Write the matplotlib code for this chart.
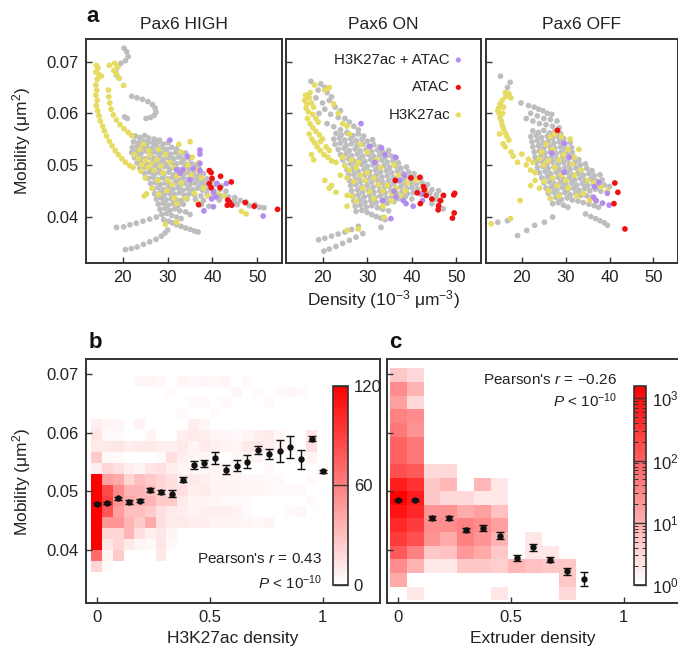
import numpy as np
import matplotlib
matplotlib.use("Agg")
import matplotlib.pyplot as plt
from matplotlib.colors import LinearSegmentedColormap, LogNorm, Normalize
from matplotlib.ticker import LogLocator, NullFormatter

plt.rcParams['font.family'] = ['Liberation Sans', 'DejaVu Sans']
plt.rcParams['mathtext.fontset'] = 'custom'
plt.rcParams['mathtext.rm'] = 'Liberation Sans'
plt.rcParams['mathtext.it'] = 'Liberation Sans:italic'
plt.rcParams['mathtext.bf'] = 'Liberation Sans:bold'

# ---------------- panel a data (density, mobility) ----------------
panel_titles = ["Pax6 HIGH", "Pax6 ON", "Pax6 OFF"]

gray_high = [
    20.3,.0726, 20.9,.0719, 21.2,.0710, 20.6,.0702, 19.6,.0697, 18.9,.0690, 18.4,.0683, 18.6,.0674, 19.2,.0668,
    22.0,.0633, 23.2,.0630, 24.4,.0627, 25.6,.0623, 26.6,.0617, 27.2,.0610, 27.4,.0602, 27.0,.0596, 26.2,.0592,
    25.2,.0590, 20.4,.0593, 21.0,.0590,
    22.8,.0556, 23.8,.0553, 24.9,.0557, 25.8,.0552, 27.0,.0550, 28.2,.0548,
    22.4,.0545, 23.5,.0543, 24.6,.0546, 25.7,.0544, 26.8,.0542, 27.9,.0545, 29.0,.0540, 30.1,.0543,
    22.1,.0534, 23.2,.0536, 24.3,.0533, 25.4,.0535, 26.5,.0532, 27.6,.0536, 28.7,.0533, 29.8,.0530, 30.9,.0534, 32.0,.0531,
    22.0,.0524, 23.0,.0526, 24.1,.0523, 25.2,.0527, 26.3,.0522, 27.4,.0525, 28.5,.0522, 29.6,.0526, 30.7,.0521, 31.8,.0524, 32.9,.0520, 34.0,.0523,
    22.6,.0514, 23.7,.0517, 24.8,.0512, 25.9,.0515, 27.0,.0513, 28.1,.0516, 29.2,.0511, 30.3,.0514, 31.4,.0512, 32.5,.0515, 33.6,.0511, 34.8,.0513,
    23.2,.0504, 24.3,.0507, 25.4,.0502, 26.5,.0505, 27.6,.0503, 28.7,.0506, 29.8,.0501, 30.9,.0504, 32.0,.0502, 33.1,.0505, 34.2,.0501, 35.3,.0503, 36.4,.0500,
    23.8,.0494, 24.9,.0496, 26.0,.0492, 27.1,.0495, 28.2,.0493, 29.3,.0497, 30.4,.0492, 31.5,.0494, 32.6,.0491, 33.7,.0495, 34.8,.0492, 35.9,.0490, 37.0,.0493,
    24.8,.0484, 25.9,.0486, 27.0,.0482, 28.1,.0485, 29.2,.0483, 30.3,.0486, 31.4,.0481, 32.5,.0484, 33.6,.0482, 34.7,.0485, 35.8,.0481, 36.9,.0479, 38.0,.0483,
    25.6,.0474, 26.7,.0476, 27.8,.0472, 28.9,.0475, 30.0,.0473, 31.1,.0476, 32.2,.0471, 33.3,.0474, 34.4,.0472, 35.5,.0475, 36.6,.0471, 37.7,.0469, 38.8,.0473, 39.9,.0470,
    26.2,.0464, 27.3,.0466, 28.4,.0462, 29.5,.0465, 30.6,.0463, 31.7,.0466, 32.8,.0461, 33.9,.0464, 35.0,.0462, 36.1,.0465, 37.2,.0461, 38.3,.0463, 39.4,.0460, 40.8,.0462, 42.0,.0459,
    26.8,.0454, 27.9,.0456, 29.0,.0452, 30.1,.0455, 31.2,.0453, 32.3,.0456, 33.4,.0451, 34.5,.0454, 35.6,.0452, 36.7,.0455, 37.8,.0451, 38.9,.0453, 40.2,.0450, 41.6,.0452, 43.0,.0449,
    27.1,.0444, 28.2,.0446, 29.3,.0442, 30.4,.0445, 31.5,.0443, 32.6,.0446, 33.7,.0441, 34.8,.0444, 36.0,.0442, 37.4,.0440, 38.8,.0443, 40.4,.0441, 42.0,.0440, 43.6,.0438, 45.0,.0437,
    27.5,.0434, 28.6,.0436, 29.7,.0432, 30.8,.0435, 31.9,.0433, 33.0,.0431, 34.3,.0434, 36.2,.0433, 38.0,.0431, 41.5,.0432, 44.8,.0430, 46.2,.0431, 47.5,.0428,
    27.9,.0424, 29.0,.0426, 30.1,.0422, 31.2,.0425, 32.3,.0421, 33.5,.0424, 37.5,.0423, 39.2,.0420, 45.5,.0423, 48.2,.0421, 49.5,.0423, 50.5,.0418, 51.5,.0417,
    28.3,.0414, 29.4,.0416, 30.5,.0412, 31.6,.0415, 32.7,.0411, 34.0,.0409, 35.0,.0404,
    28.7,.0404, 29.8,.0406, 30.9,.0402, 32.0,.0399, 33.0,.0396,
    29.1,.0394, 30.2,.0391, 31.0,.0388, 32.0,.0384, 33.0,.0381, 34.0,.0378, 35.0,.0375, 36.0,.0372, 36.8,.0370,
    18.6,.0379, 20.2,.0380, 21.6,.0384, 23.0,.0387, 24.5,.0391, 26.0,.0395, 27.5,.0399,
    20.6,.0336, 21.9,.0338, 23.2,.0341, 24.6,.0346, 26.0,.0351, 27.4,.0356, 28.6,.0362, 29.4,.0368, 30.0,.0374,
]
yellow_high = [
    14.1,.0693, 14.5,.0688, 14.0,.0680, 14.6,.0676, 15.2,.0672, 14.3,.0666, 14.0,.0655, 14.2,.0645, 14.0,.0635,
    14.3,.0625, 14.1,.0615, 14.4,.0605, 14.7,.0595, 15.0,.0585, 15.5,.0575, 15.9,.0566, 16.4,.0556, 17.0,.0546,
    17.6,.0537, 18.3,.0528, 19.0,.0520, 19.8,.0512, 20.6,.0505, 21.5,.0499, 22.3,.0495,
    17.0,.0693, 18.2,.0697, 18.8,.0690, 18.0,.0683, 18.6,.0676, 19.2,.0668, 20.2,.0654,
    16.8,.0645, 16.9,.0632, 17.1,.0620, 17.4,.0608, 17.9,.0597, 18.6,.0587, 19.4,.0578, 20.3,.0570, 21.2,.0563, 22.0,.0557,
    22.5,.0520, 23.5,.0512, 24.2,.0500, 25.0,.0508, 25.5,.0495, 26.3,.0503, 27.0,.0490, 26.0,.0518, 27.6,.0510,
    28.5,.0498, 23.8,.0530, 24.6,.0540, 25.8,.0528, 28.0,.0530, 29.5,.0520, 30.5,.0505, 31.5,.0495, 29.0,.0485,
    32.0,.0478, 33.5,.0488, 34.5,.0500, 35.2,.0480, 36.5,.0490, 37.5,.0475, 33.0,.0465, 31.0,.0462, 29.8,.0450,
    28.0,.0443, 26.5,.0455, 25.0,.0475, 24.0,.0488, 32.5,.0540, 33.0,.0525, 35.5,.0515, 30.0,.0470, 38.0,.0455,
    39.0,.0440, 36.0,.0445, 34.0,.0435, 41.0,.0445, 42.5,.0440, 46.5,.0410, 47.5,.0405, 29.5,.0385, 32.0,.0425,
    36.8,.0426, 31.5,.0436, 27.8,.0470, 24.8,.0440, 25.3,.0444, 37.0,.0504, 35.0,.0545, 32.0,.0389,
]
purple_high = [
    30.5,.0548, 34.4,.0517, 37.2,.0529, 37.2,.0521, 37.2,.0503, 35.7,.0493, 33.4,.0490, 32.0,.0491, 35.0,.0471,
    32.8,.0484, 41.0,.0464, 43.1,.0464, 40.2,.0447, 40.8,.0438, 39.8,.0434, 40.2,.0419, 38.1,.0411, 51.3,.0401,
    37.2,.0489,
]
red_high = [
    39.3,.0489, 39.7,.0485, 39.9,.0474, 39.3,.0464, 39.7,.0456, 41.8,.0478, 41.7,.0456, 44.2,.0467, 43.4,.0432,
    43.8,.0428, 43.3,.0422, 44.3,.0422, 36.9,.0423, 47.3,.0427, 49.3,.0420, 54.5,.0414,
]

gray_on = [
    17.4,.0662, 19.6,.0657, 20.5,.0650, 19.0,.0645, 21.0,.0640, 22.0,.0632, 21.5,.0625, 18.5,.0630, 20.0,.0620,
    22.8,.0612, 24.0,.0605, 20.5,.0608, 19.2,.0600, 21.8,.0598, 23.5,.0592, 25.0,.0590, 26.0,.0583, 27.0,.0575,
    21.0,.0580, 22.5,.0574, 24.0,.0568, 25.5,.0563, 28.0,.0568,
    23.0,.0561, 24.2,.0558, 25.5,.0562, 26.8,.0557, 28.0,.0560, 29.2,.0556,
    22.5,.0550, 23.8,.0552, 25.0,.0548, 26.3,.0551, 27.5,.0547, 28.8,.0550, 30.0,.0546, 31.2,.0549,
    22.8,.0540, 24.0,.0542, 25.3,.0538, 26.5,.0541, 27.8,.0537, 29.0,.0540, 30.3,.0536, 31.5,.0539, 32.8,.0535,
    23.5,.0530, 24.8,.0532, 26.0,.0528, 27.3,.0531, 28.5,.0527, 29.8,.0530, 31.0,.0526, 32.3,.0529, 33.5,.0525, 34.8,.0528,
    24.0,.0520, 25.3,.0522, 26.5,.0518, 27.8,.0521, 29.0,.0517, 30.3,.0520, 31.5,.0516, 32.8,.0519, 34.0,.0515, 35.3,.0518, 36.5,.0514,
    24.5,.0510, 25.8,.0512, 27.0,.0508, 28.3,.0511, 29.5,.0507, 30.8,.0510, 32.0,.0506, 33.3,.0509, 34.5,.0505, 35.8,.0508, 37.0,.0504,
    25.0,.0500, 26.3,.0502, 27.5,.0498, 28.8,.0501, 30.0,.0497, 31.3,.0500, 32.5,.0496, 33.8,.0499, 35.0,.0495, 36.3,.0498, 37.5,.0494, 38.8,.0496,
    25.5,.0490, 26.8,.0492, 28.0,.0488, 29.3,.0491, 30.5,.0487, 31.8,.0490, 33.0,.0486, 34.3,.0489, 35.5,.0485, 36.8,.0488, 38.0,.0484, 39.3,.0486, 40.5,.0483,
    25.8,.0480, 27.0,.0482, 28.3,.0478, 29.5,.0481, 30.8,.0477, 32.0,.0480, 33.3,.0476, 34.5,.0479, 35.8,.0475, 37.0,.0478, 38.3,.0474, 39.5,.0476, 40.8,.0473, 42.0,.0475,
    26.0,.0470, 27.3,.0472, 28.5,.0468, 29.8,.0471, 31.0,.0467, 32.3,.0470, 33.5,.0466, 34.8,.0469, 36.0,.0465, 37.3,.0468, 38.5,.0464, 39.8,.0466, 41.0,.0463, 42.3,.0465, 43.5,.0462,
    26.3,.0460, 27.5,.0462, 28.8,.0458, 30.0,.0461, 31.3,.0457, 32.5,.0460, 33.8,.0456, 35.0,.0459, 36.3,.0455, 37.5,.0458, 38.8,.0454, 40.0,.0456, 41.3,.0453, 43.0,.0455, 44.5,.0452, 46.0,.0450,
    26.5,.0450, 27.8,.0452, 29.0,.0448, 30.3,.0451, 31.5,.0447, 32.8,.0450, 34.0,.0446, 35.3,.0449, 36.5,.0445, 37.8,.0448, 39.0,.0444, 40.3,.0446, 42.0,.0443, 44.0,.0445, 45.5,.0442, 47.0,.0440,
    26.8,.0440, 28.0,.0442, 29.3,.0438, 30.5,.0441, 31.8,.0437, 33.0,.0440, 34.3,.0436, 35.5,.0439, 37.0,.0435, 38.5,.0438, 40.0,.0434, 45.5,.0433, 46.5,.0430,
    27.0,.0430, 28.3,.0432, 29.5,.0428, 30.8,.0431, 32.0,.0427, 33.3,.0430, 34.5,.0426, 36.0,.0429, 44.5,.0425, 46.0,.0420, 47.0,.0415,
    27.3,.0420, 28.5,.0422, 29.8,.0418, 31.0,.0421, 32.3,.0417, 33.5,.0414, 34.8,.0411,
    27.5,.0410, 28.8,.0412, 30.0,.0408, 31.0,.0404, 32.0,.0400, 33.0,.0397, 34.0,.0394, 33.1,.0379,
    19.1,.0355, 20.5,.0358, 22.0,.0362, 23.5,.0366, 25.0,.0370, 26.5,.0375, 28.0,.0381,
    20.3,.0333, 21.5,.0337, 23.0,.0342, 24.5,.0348, 26.0,.0354, 27.5,.0360, 29.0,.0367,
]
yellow_on = [
    16.2,.0635, 16.0,.0625, 16.5,.0618, 16.3,.0610, 16.8,.0603, 17.2,.0640, 17.0,.0630, 17.5,.0620, 18.0,.0612,
    17.8,.0598, 18.5,.0590, 19.0,.0583, 16.6,.0590, 17.2,.0580, 17.8,.0572, 18.5,.0565, 19.3,.0558, 20.0,.0550,
    17.0,.0560, 17.6,.0550, 18.2,.0543, 18.8,.0535, 19.5,.0528, 20.3,.0520, 21.2,.0515, 22.0,.0508, 17.5,.0520,
    18.0,.0510, 19.5,.0545, 20.8,.0535, 21.5,.0528, 20.5,.0645, 21.5,.0650, 18.2,.0655, 22.5,.0618, 23.5,.0600,
    24.5,.0580, 25.5,.0575, 26.0,.0560,
    23.0,.0505, 24.5,.0515, 25.0,.0498, 26.0,.0490, 27.5,.0495, 28.5,.0480, 29.5,.0470, 30.0,.0485, 31.5,.0475,
    32.5,.0462, 33.5,.0450, 34.5,.0460, 35.5,.0445, 36.5,.0455, 37.5,.0440, 38.5,.0450, 30.5,.0448, 29.0,.0455,
    27.0,.0468, 25.5,.0475, 24.0,.0480, 22.0,.0460, 21.5,.0455, 26.5,.0440, 27.5,.0430, 25.5,.0420, 31.5,.0435,
    33.5,.0420, 35.5,.0430, 32.0,.0510, 30.0,.0525, 28.5,.0540, 33.0,.0495, 36.0,.0500, 37.0,.0480, 39.0,.0465,
    41.0,.0470, 43.0,.0450, 33.8,.0399, 28.0,.0376, 25.5,.0373, 23.0,.0447, 25.5,.0441, 20.5,.0470, 26.5,.0510,
    28.0,.0505,
]
purple_on = [
    28.6,.0580, 30.6,.0536, 33.2,.0533, 34.0,.0520, 36.3,.0515, 31.7,.0505, 38.3,.0480, 37.3,.0470, 36.0,.0449,
    33.5,.0431, 38.1,.0431, 38.7,.0425, 40.3,.0420, 42.3,.0444, 42.4,.0431, 35.3,.0396, 36.5,.0438,
]
red_on = [
    36.3,.0470, 39.8,.0475, 41.8,.0476, 42.6,.0458, 42.8,.0452, 41.2,.0446, 43.2,.0441, 44.5,.0434, 41.9,.0425,
    47.1,.0441, 46.4,.0431, 46.0,.0421, 45.9,.0413, 49.6,.0445, 49.4,.0442, 49.5,.0407, 49.1,.0397,
]

gray_off = [
    15.1,.0672, 16.7,.0650, 17.3,.0660, 19.8,.0620, 21.5,.0615, 22.8,.0612, 23.8,.0608, 24.8,.0605, 25.8,.0600,
    26.8,.0598, 22.0,.0600, 23.5,.0595, 25.0,.0590, 26.5,.0588, 28.0,.0585, 21.0,.0590, 22.5,.0585, 24.0,.0580,
    25.5,.0578, 27.0,.0575, 28.5,.0572,
    22.5,.0566, 23.8,.0563, 25.0,.0567, 26.3,.0562, 27.5,.0565, 28.8,.0561,
    22.0,.0555, 23.3,.0557, 24.5,.0553, 25.8,.0556, 27.0,.0552, 28.3,.0555, 29.5,.0551,
    22.3,.0545, 23.5,.0547, 24.8,.0543, 26.0,.0546, 27.3,.0542, 28.5,.0545, 29.8,.0541, 31.0,.0544,
    22.5,.0535, 23.8,.0537, 25.0,.0533, 26.3,.0536, 27.5,.0532, 28.8,.0535, 30.0,.0531, 31.3,.0534,
    22.8,.0525, 24.0,.0527, 25.3,.0523, 26.5,.0526, 27.8,.0522, 29.0,.0525, 30.3,.0521, 31.5,.0524,
    23.0,.0515, 24.3,.0517, 25.5,.0513, 26.8,.0516, 28.0,.0512, 29.3,.0515, 30.5,.0511, 31.8,.0514, 33.0,.0510,
    23.3,.0505, 24.5,.0507, 25.8,.0503, 27.0,.0506, 28.3,.0502, 29.5,.0505, 30.8,.0501, 32.0,.0504, 33.3,.0500, 34.5,.0502,
    23.5,.0495, 24.8,.0497, 26.0,.0493, 27.3,.0496, 28.5,.0492, 29.8,.0495, 31.0,.0491, 32.3,.0494, 33.5,.0490, 34.8,.0493, 36.0,.0489,
    24.0,.0485, 25.3,.0487, 26.5,.0483, 27.8,.0486, 29.0,.0482, 30.3,.0485, 31.5,.0481, 32.8,.0484, 34.0,.0480, 35.3,.0483, 36.5,.0479, 37.8,.0481,
    24.5,.0475, 25.8,.0477, 27.0,.0473, 28.3,.0476, 29.5,.0472, 30.8,.0475, 32.0,.0471, 33.3,.0474, 34.5,.0470, 35.8,.0473, 37.0,.0469, 38.3,.0471,
    25.0,.0465, 26.3,.0467, 27.5,.0463, 28.8,.0466, 30.0,.0462, 31.3,.0465, 32.5,.0461, 33.8,.0464, 35.0,.0460, 36.3,.0463, 37.5,.0459, 38.8,.0461, 40.0,.0458,
    25.5,.0455, 26.8,.0457, 28.0,.0453, 29.3,.0456, 30.5,.0452, 31.8,.0455, 33.0,.0451, 34.3,.0454, 35.5,.0450, 36.8,.0453, 38.0,.0449,
    26.0,.0445, 27.3,.0447, 28.5,.0443, 29.8,.0446, 31.0,.0442, 32.3,.0445, 33.5,.0441, 34.8,.0440, 36.0,.0438,
    26.5,.0435, 27.8,.0437, 29.0,.0433, 30.3,.0436, 31.5,.0432, 32.8,.0430, 34.0,.0427, 35.3,.0424, 36.5,.0421, 37.5,.0418,
    27.0,.0425, 28.3,.0427, 29.5,.0422, 30.5,.0418,
    34.5,.0405, 35.7,.0400, 36.8,.0396, 37.8,.0392, 38.8,.0388, 39.5,.0383,
    14.5,.0389, 16.7,.0392, 19.0,.0363, 21.1,.0373, 22.9,.0383, 25.1,.0389, 27.0,.0399,
]
yellow_off = [
    17.0,.0638, 16.3,.0632, 15.5,.0625, 15.0,.0618, 14.7,.0610, 14.8,.0600, 15.0,.0592, 15.3,.0585, 15.5,.0577,
    15.8,.0570, 16.2,.0562, 16.6,.0555, 17.0,.0548, 16.2,.0640, 15.8,.0612, 15.6,.0600, 14.5,.0605, 17.5,.0630,
    14.9,.0560, 15.7,.0541, 16.2,.0535, 17.5,.0525, 18.0,.0517, 20.0,.0521, 21.5,.0511, 19.0,.0505,
    21.0,.0500, 22.0,.0490, 23.0,.0485, 22.5,.0505, 24.0,.0512, 25.0,.0500, 26.0,.0508, 27.5,.0495, 28.5,.0510,
    29.5,.0520, 30.5,.0530, 27.0,.0530, 25.5,.0540, 24.5,.0525, 31.5,.0502, 29.0,.0480, 27.0,.0475, 25.0,.0468,
    23.0,.0470, 22.0,.0460, 24.0,.0455, 26.0,.0450, 28.0,.0460, 30.0,.0470, 32.0,.0480, 33.5,.0490, 35.0,.0470,
    36.5,.0465, 38.0,.0458, 39.5,.0450, 34.0,.0445, 32.5,.0440, 30.5,.0455, 28.5,.0440, 26.5,.0435, 35.5,.0432,
    37.0,.0430, 29.0,.0555, 27.5,.0560, 31.0,.0550, 26.5,.0555, 19.6,.0431, 17.4,.0396, 13.0,.0386, 32.0,.0515,
    33.0,.0530,
]
purple_off = [
    29.6,.0542, 26.8,.0523, 30.8,.0515, 29.6,.0486, 37.6,.0466, 36.5,.0458, 39.5,.0445, 36.9,.0431, 38.4,.0426,
    39.9,.0422, 36.4,.0437,
]
red_off = [28.1,.0567, 41.2,.0465, 41.9,.0447, 41.0,.0425, 43.5,.0376]

scatter_sets = [
    (gray_high, yellow_high, purple_high, red_high),
    (gray_on, yellow_on, purple_on, red_on),
    (gray_off, yellow_off, purple_off, red_off),
]
legend_labels = ["H3K27ac + ATAC", "ATAC", "H3K27ac"]

# ---------------- panel b data ----------------
h3k27ac_bin_centers = [0.0, 0.048, 0.095, 0.143, 0.190, 0.238, 0.286, 0.333, 0.381, 0.429, 0.476,
                       0.524, 0.571, 0.619, 0.667, 0.714, 0.762, 0.810, 0.857, 0.905, 0.952, 1.0]
mob_mean_b = [0.0479, 0.0480, 0.0488, 0.0482, 0.0484, 0.0502, 0.0499, 0.0496, 0.0520, 0.0545, 0.0548,
              0.0557, 0.0537, 0.0544, 0.0551, 0.0571, 0.0564, 0.0569, 0.0576, 0.0555, 0.0590, 0.0534]
mob_err_b = [0.00017, 0.00017, 0.00023, 0.00034, 0.00028, 0.00034, 0.00034, 0.00057, 0.00046, 0.00068, 0.00057,
             0.0010, 0.0008, 0.0010, 0.0011, 0.00068, 0.0008, 0.0019, 0.0019, 0.0016, 0.00046, 0.00028]
# counts, rows from top (high mobility) to bottom
counts_b = [
    [0,0,0,0,4,5,3,0,5,3,4,3,5,0,3,0,0,0,0,0,0,0],
    [0,0,0,0,0,0,0,3,0,0,0,0,0,4,0,3,0,3,4,3,0,0],
    [0,0,0,0,0,0,0,0,0,3,3,0,3,0,0,0,2,0,0,0,0,0],
    [0,0,0,0,0,0,0,0,3,0,0,2,0,0,0,0,0,0,0,0,0,0],
    [8,5,4,0,6,0,0,0,0,8,5,0,0,0,0,0,0,0,0,0,0,0],
    [12,3,3,0,0,5,0,0,8,10,8,5,4,3,5,8,10,4,0,0,12,0],
    [10,10,12,8,10,10,8,8,10,5,10,8,6,5,10,12,8,5,4,0,15,0],
    [25,3,3,0,0,0,3,15,8,5,5,3,0,4,5,6,0,0,0,2,6,0],
    [8,20,15,8,5,12,15,8,5,5,4,5,4,5,0,0,3,0,0,0,0,2],
    [140,45,40,20,30,25,20,15,8,10,8,5,5,6,4,4,3,3,0,0,3,0],
    [160,85,55,35,35,30,20,15,15,8,10,6,5,5,4,5,3,2,3,3,0,0],
    [170,90,50,40,35,35,25,25,10,5,6,4,3,3,3,0,0,0,0,0,3,0],
    [190,80,45,30,30,25,15,10,8,5,8,8,8,6,3,0,0,0,3,4,0,0],
    [200,50,50,35,25,40,15,10,10,8,8,6,5,5,4,3,5,0,0,0,0,0],
    [180,20,20,35,15,8,12,5,0,0,0,0,0,0,0,0,0,0,0,0,0,0],
    [150,12,20,10,5,3,12,3,0,0,0,0,0,0,0,0,0,0,0,0,0,0],
    [70,5,25,0,0,0,10,0,0,0,0,0,0,0,0,0,0,0,0,0,0,0],
    [20,2,0,0,0,0,0,0,0,0,0,0,0,0,0,0,0,0,0,0,0,0],
]
mob_edges_b = [0.03628, 0.03814, 0.04000, 0.04186, 0.04372, 0.04558, 0.04744, 0.04930, 0.05116, 0.05302,
               0.05488, 0.05674, 0.05860, 0.06046, 0.06232, 0.06418, 0.06604, 0.06790, 0.06976]

# ---------------- panel c data ----------------
extruder_bin_centers = [0.0, 0.075, 0.15, 0.225, 0.30, 0.375, 0.45, 0.525, 0.60, 0.675, 0.75, 0.825]
mob_mean_c = [0.04858, 0.04858, 0.04546, 0.04546, 0.04346, 0.04375, 0.04244, 0.03863, 0.04044, 0.03834,
              0.03635, 0.03505]
mob_err_c = [0.00017, 0.00017, 0.00034, 0.00034, 0.00034, 0.00046, 0.00057, 0.00057, 0.00057, 0.00046,
             0.00057, 0.00114]
counts_c = [
    [5,3,0,0,0,0,0,0,0,0,0],
    [28,9,0,0,0,0,0,0,0,0,0],
    [16,3,0,0,0,0,0,0,0,0,0],
    [37,27,0,0,0,0,0,0,0,0,0],
    [50,22,0,0,0,0,0,0,0,0,0],
    [90,50,0,0,0,0,0,0,0,0,0],
    [90,50,0,0,0,0,0,0,0,0,0],
    [160,120,3,3,0,0,0,0,0,0,0],
    [660,380,5,8,0,8,2,0,0,0,0],
    [1600,660,5,3,3,2,2,0,0,0,0],
    [900,500,22,22,11,16,6,0,0,0,0],
    [500,280,27,27,37,27,16,0,0,0,0],
    [280,160,22,12,37,22,9,0,2,0,0],
    [120,37,5,6,20,12,5,0,2,2,0],
    [28,9,2,2,5,5,4,8,6,5,5],
    [12,0,0,0,0,0,0,0,0,0,5],
    [0,2,0,0,0,0,2,0,0,0,3],
]
mob_edges_c = [0.0314, 0.03373, 0.03606, 0.03839, 0.04072, 0.04305, 0.04538, 0.04771, 0.05004, 0.05237,
               0.05470, 0.05703, 0.05936, 0.06169, 0.06402, 0.06635, 0.06868, 0.07101]

# ---------------- figure ----------------
W, H = 678, 655
fig = plt.figure(figsize=(W/100, H/100), dpi=100)

def rect(l, t, r, b):
    return [l/W, 1-b/H, (r-l)/W, (b-t)/H]

TXT = '#222222'
SP = '#333333'
FS = 12
LFS = 12.5
AFS = 11

def style(ax):
    for s in ax.spines.values():
        s.set_color(SP)
        s.set_linewidth(1.4)
    ax.tick_params(direction='in', length=4, width=1, color=SP, labelsize=FS, labelcolor=TXT, pad=5)

c_gray = '#bebebe'
c_yel = '#e6dc62'
c_pur = '#b48cf0'
c_red = '#ee1111'
MS = 17

a_rects = [rect(86, 39, 282, 263), rect(286, 39, 481, 263), rect(486, 39, 677.5, 263)]
for i, (r, sets) in enumerate(zip(a_rects, scatter_sets)):
    ax = fig.add_axes(r)
    g, yl, pu, rd = [np.array(s).reshape(-1, 2) for s in sets]
    ax.scatter(g[:, 0], g[:, 1], s=MS, color=c_gray, edgecolors='none', zorder=1)
    ax.scatter(yl[:, 0], yl[:, 1], s=MS, color=c_yel, edgecolors='none', zorder=2)
    ax.scatter(pu[:, 0], pu[:, 1], s=MS, color=c_pur, edgecolors='none', zorder=3)
    ax.scatter(rd[:, 0], rd[:, 1], s=MS, color=c_red, edgecolors='none', zorder=4)
    ax.set_xlim(11.8, 55.5)
    ax.set_ylim(0.031, 0.0744)
    ax.set_xticks([20, 30, 40, 50])
    ax.set_yticks([0.04, 0.05, 0.06, 0.07])
    style(ax)
    if i > 0:
        ax.set_yticklabels([])
    else:
        ax.set_yticklabels(['0.04', '0.05', '0.06', '0.07'])
    ax.set_title(panel_titles[i], fontsize=12.5, color=TXT, pad=7)
    if i == 1:
        ys = [0.906, 0.784, 0.661]
        cols = [c_pur, c_red, c_yel]
        for lab, yy, cc in zip(legend_labels, ys, cols):
            ax.text(0.841, yy, lab, transform=ax.transAxes, ha='right', va='center', fontsize=10.8, color=TXT)
            ax.scatter([0.884], [yy], s=14, color=cc, edgecolors='none', transform=ax.transAxes, clip_on=False)

fig.text(22/W, 1-141/H, r'Mobility (μm$^2$)', rotation=90, ha='center', va='center', fontsize=LFS, color=TXT)
fig.text(383/W, 1-300/H, r'Density (10$^{-3}$ μm$^{-3}$)', ha='center', va='center', fontsize=LFS, color=TXT)
fig.text(93/W, 1-17/H, 'a', fontsize=16, fontweight='bold', ha='center', va='center', color='#111')

cmap = LinearSegmentedColormap.from_list('wr', ['#ffffff', '#ff0000'])

# panel b
axb = fig.add_axes(rect(86, 359, 380, 603.3))
xb_edges = [c - 0.5/21 for c in h3k27ac_bin_centers] + [h3k27ac_bin_centers[-1] + 0.5/21]
Cb = np.array(counts_b)[::-1]
mb = axb.pcolormesh(xb_edges, mob_edges_b, Cb, cmap=cmap, norm=Normalize(0, 120), zorder=1)
axb.errorbar(h3k27ac_bin_centers, mob_mean_b, yerr=mob_err_b, fmt='o', color='#111111', ms=3.6,
             capsize=2.8, elinewidth=1, capthick=1, zorder=3)
axb.set_xlim(-0.047, 1.254)
axb.set_ylim(0.0309, 0.0726)
axb.set_xticks([0, 0.5, 1])
axb.set_xticklabels(['0', '0.5', '1'])
axb.set_yticks([0.04, 0.05, 0.06, 0.07])
axb.set_yticklabels(['0.04', '0.05', '0.06', '0.07'])
style(axb)
axb.text((322-86)/294, 1-(559-359)/244.3, r"Pearson's $r$ = 0.43", transform=axb.transAxes,
         ha='right', va='center', fontsize=AFS, color=TXT)
axb.text((322-86)/294, 1-(583-359)/244.3, r"$P$ < 10$^{-10}$", transform=axb.transAxes,
         ha='right', va='center', fontsize=AFS, color=TXT)
caxb = fig.add_axes(rect(333, 385.7, 348.3, 585))
cbb = fig.colorbar(mb, cax=caxb, ticks=[0, 60, 120])
cbb.outline.set_edgecolor(SP)
cbb.outline.set_linewidth(1.2)
caxb.tick_params(axis='y', direction='in', length=11, width=1, color=SP, labelsize=FS, labelcolor=TXT, pad=4)
fig.text(22/W, 1-482/H, r'Mobility (μm$^2$)', rotation=90, ha='center', va='center', fontsize=LFS, color=TXT)
fig.text(233/W, 1-638/H, 'H3K27ac density', ha='center', va='center', fontsize=LFS, color=TXT)
fig.text(95/W, 1-343/H, 'b', fontsize=16, fontweight='bold', ha='center', va='center', color='#111')

# panel c
axc = fig.add_axes(rect(386.7, 359, 680, 603.3))
xc_edges = [c - 0.0375 for c in extruder_bin_centers[:11]] + [extruder_bin_centers[10] + 0.0375]
Cc = np.ma.masked_equal(np.array(counts_c, dtype=float)[::-1], 0)
mc = axc.pcolormesh(xc_edges, mob_edges_c, Cc, cmap=cmap, norm=LogNorm(1, 1600), zorder=1)
axc.errorbar(extruder_bin_centers, mob_mean_c, yerr=mob_err_c, fmt='o', color='#111111', ms=3.6,
             capsize=2.8, elinewidth=1, capthick=1, zorder=3)
axc.set_xlim(-0.051, 1.25)
axc.set_ylim(0.0309, 0.0726)
axc.set_xticks([0, 0.5, 1])
axc.set_xticklabels(['0', '0.5', '1'])
axc.set_yticks([0.04, 0.05, 0.06, 0.07])
axc.set_yticklabels([])
style(axc)
axc.text((617-386.7)/293.3, 1-(380-359)/244.3, r"Pearson's $r$ = −0.26", transform=axc.transAxes,
         ha='right', va='center', fontsize=AFS, color=TXT)
axc.text((617-386.7)/293.3, 1-(401-359)/244.3, r"$P$ < 10$^{-10}$", transform=axc.transAxes,
         ha='right', va='center', fontsize=AFS, color=TXT)
caxc = fig.add_axes(rect(634.3, 385.7, 646, 585))
cbc = fig.colorbar(mc, cax=caxc, ticks=[1, 10, 100, 1000])
cbc.outline.set_edgecolor(SP)
cbc.outline.set_linewidth(1.2)
caxc.yaxis.set_minor_locator(LogLocator(base=10, subs=(2, 3, 4, 5, 6, 7, 8, 9)))
caxc.yaxis.set_minor_formatter(NullFormatter())
caxc.tick_params(axis='y', which='major', direction='in', length=8.4, width=1, color=SP, labelsize=FS,
                 labelcolor=TXT, pad=4)
caxc.tick_params(axis='y', which='minor', direction='in', length=3, width=0.7, color=SP, left=True, right=True)
fig.text(533/W, 1-638/H, 'Extruder density', ha='center', va='center', fontsize=LFS, color=TXT)
fig.text(395/W, 1-343/H, 'c', fontsize=16, fontweight='bold', ha='center', va='center', color='#111')

fig.savefig('out.png', dpi=100)
